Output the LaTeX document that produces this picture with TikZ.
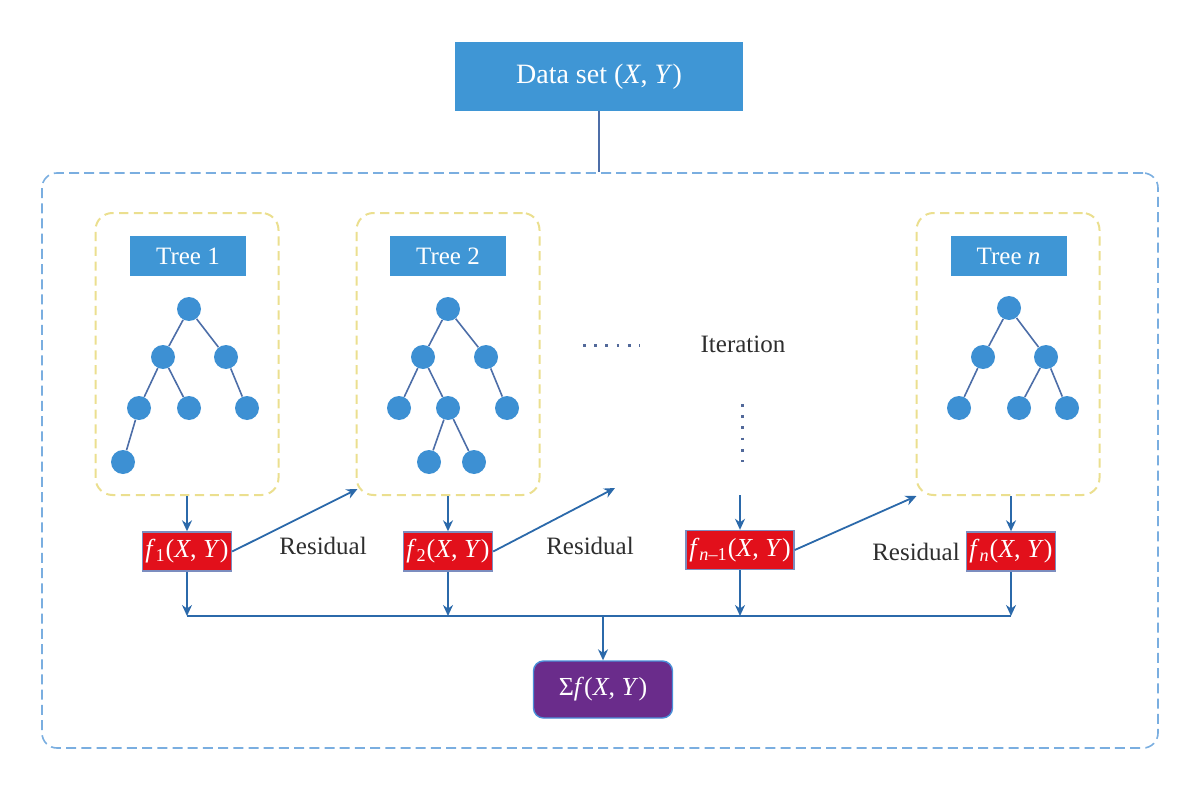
\documentclass[tikz,border=0pt]{standalone}
\usepackage{fontspec}
\setmainfont{Liberation Serif}
\usetikzlibrary{calc,arrows.meta}
\definecolor{boxblue}{HTML}{3F96D5}
\definecolor{nodeblue}{HTML}{3D90D3}
\definecolor{branchblue}{HTML}{4D6EA8}
\definecolor{flowblue}{HTML}{2B69AA}
\definecolor{frameblue}{HTML}{7AAEE0}
\definecolor{dashyellow}{HTML}{EBDF8F}
\definecolor{boxred}{HTML}{E2101B}
\definecolor{redline}{HTML}{7C8DBF}
\definecolor{sumpurple}{HTML}{6A2C8B}
\definecolor{sumline}{HTML}{4A8FD8}
\definecolor{textgray}{HTML}{2E2E2E}
\definecolor{dotblue}{HTML}{52699A}
\tikzset{
  outerframe/.style={draw=frameblue, line width=0.8pt, dash pattern=on 5pt off 2.6pt,
    rounded corners=7.5pt, minimum width=558pt, minimum height=287.5pt, inner sep=0pt},
  databox/.style={fill=boxblue, text=white, minimum width=144pt, minimum height=34.5pt,
    inner sep=0pt, font=\fontsize{14}{16}\selectfont},
  treebox/.style={draw=dashyellow, line width=1pt, dash pattern=on 4.6pt off 2.8pt,
    rounded corners=8.5pt, minimum width=91.5pt, minimum height=141pt, inner sep=0pt},
  treetag/.style={fill=boxblue, text=white, minimum width=58pt, minimum height=20pt,
    inner sep=0pt, font=\fontsize{12.5}{14}\selectfont},
  leaf/.style={circle, fill=nodeblue, minimum size=12pt, inner sep=0pt},
  branch/.style={draw=branchblue, line width=0.8pt},
  fbox/.style={fill=boxred, draw=redline, line width=0.7pt, text=white, minimum width=44.5pt,
    minimum height=19.5pt, inner sep=1pt, font=\fontsize{13}{15}\selectfont},
  sumbox/.style={fill=sumpurple, draw=sumline, line width=0.7pt, rounded corners=5pt,
    minimum width=69.5pt, minimum height=28.5pt, text=white, font=\fontsize{13}{15}\selectfont},
  flow/.style={draw=flowblue, line width=0.9pt, -{Stealth[length=5.5pt,width=5pt]}},
  link/.style={draw=flowblue, line width=0.9pt},
  feed/.style={draw=branchblue, line width=0.75pt},
  remark/.style={text=textgray, font=\fontsize{12.5}{15}\selectfont},
  dots/.style={draw=dotblue, line width=1.5pt, dash pattern=on 1.4pt off 4.2pt}
}

\begin{document}
\begin{tikzpicture}[x=0.5pt,y=-0.5pt]
  \useasboundingbox (0,0) rectangle (1200,792);

  % data set and frame
  \node[outerframe] (frame) at (600,460.5) {};
  \node[databox] (data) at (599,76.5) {Data set (\textit{X}, \textit{Y})};
  \draw[feed] (data) -- (data.south |- frame.north);

  % tree boxes
  \node[treebox] (box1) at (187,354) {};
  \node[treebox] (box2) at (448,354) {};
  \node[treebox] (boxn) at (1008,354) {};
  \node[treetag] (tag1) at (188,256) {Tree 1};
  \node[treetag] (tag2) at (448,256) {Tree 2};
  \node[treetag] (tagn) at (1008.5,256) {Tree \textit{n}};

  % tree 1
  \node[leaf] (a0) at (189,309) {};
  \node[leaf] (a1) at (163,357) {};
  \node[leaf] (a2) at (226,357) {};
  \node[leaf] (a3) at (139,408) {};
  \node[leaf] (a4) at (189,408) {};
  \node[leaf] (a5) at (247,408) {};
  \node[leaf] (a6) at (123,462) {};
  \draw[branch] (a0) -- (a1);
  \draw[branch] (a0) -- (a2);
  \draw[branch] (a1) -- (a3);
  \draw[branch] (a1) -- (a4);
  \draw[branch] (a2) -- (a5);
  \draw[branch] (a3) -- (a6);

  % tree 2
  \node[leaf] (b0) at (448,309) {};
  \node[leaf] (b1) at (423,357) {};
  \node[leaf] (b2) at (486,357) {};
  \node[leaf] (b3) at (399,408) {};
  \node[leaf] (b4) at (448,408) {};
  \node[leaf] (b5) at (507,408) {};
  \node[leaf] (b6) at (429,462) {};
  \node[leaf] (b7) at (474,462) {};
  \draw[branch] (b0) -- (b1);
  \draw[branch] (b0) -- (b2);
  \draw[branch] (b1) -- (b3);
  \draw[branch] (b1) -- (b4);
  \draw[branch] (b2) -- (b5);
  \draw[branch] (b4) -- (b6);
  \draw[branch] (b4) -- (b7);

  % tree n
  \node[leaf] (c0) at (1009,308) {};
  \node[leaf] (c1) at (983,357) {};
  \node[leaf] (c2) at (1046,357) {};
  \node[leaf] (c3) at (959,408) {};
  \node[leaf] (c4) at (1019,408) {};
  \node[leaf] (c5) at (1067,408) {};
  \draw[branch] (c0) -- (c1);
  \draw[branch] (c0) -- (c2);
  \draw[branch] (c1) -- (c3);
  \draw[branch] (c2) -- (c4);
  \draw[branch] (c2) -- (c5);

  % iteration marks
  \node[remark] (iter) at (743,344) {Iteration};
  \coordinate (h0) at (583,345);
  \coordinate (h1) at (640,345);
  \draw[dots] (h0) -- (h1);
  \coordinate (v0) at (742,404);
  \coordinate (v1) at (742,462);
  \draw[dots] (v0) -- (v1);

  % tree outputs
  \node[fbox] (f1) at (187,551.5) {\textit{f}\textsubscript{1}(\textit{X}, \textit{Y})};
  \node[fbox] (f2) at (448,551.5) {\textit{f}\textsubscript{2}(\textit{X}, \textit{Y})};
  \node[fbox, minimum width=54pt] (fm) at (740,550) {\textit{f}\textsubscript{\textit{n}–1}(\textit{X}, \textit{Y})};
  \node[fbox] (fn) at (1011,551.5) {\textit{f}\textsubscript{\textit{n}}(\textit{X}, \textit{Y})};
  \node[remark] (res1) at (323,546) {Residual};
  \node[remark] (res2) at (590,546) {Residual};
  \node[remark] (res3) at (916,552) {Residual};

  \draw[flow] (box1.south) -- (f1.north);
  \draw[flow] (box2.south) -- (f2.north);
  \draw[flow] (boxn.south -| fn.north) -- (fn.north);
  \coordinate (top) at (740,495);
  \draw[flow] (top) -- (fm.north);

  % residuals
  \coordinate (r2) at (615,488);
  \draw[flow] (f1.east) -- ($(box2.south west)+(2,-7)$);
  \draw[flow] (f2.east) -- (r2);
  \draw[flow] (fm.east) -- ($(boxn.south west)+(1,0)$);

  % sum
  \coordinate (sumline) at (0,616);
  \node[sumbox] (sum) at (603,689.5) {Σ\textit{f}(\textit{X}, \textit{Y})};
  \draw[link] (f1.south |- sumline) -- (fn.south |- sumline);
  \draw[flow] (f1.south) -- (f1.south |- sumline);
  \draw[flow] (f2.south) -- (f2.south |- sumline);
  \draw[flow] (fm.south) -- (fm.south |- sumline);
  \draw[flow] (fn.south) -- (fn.south |- sumline);
  \draw[flow] (sum.north |- sumline) -- (sum.north);
\end{tikzpicture}
\end{document}
